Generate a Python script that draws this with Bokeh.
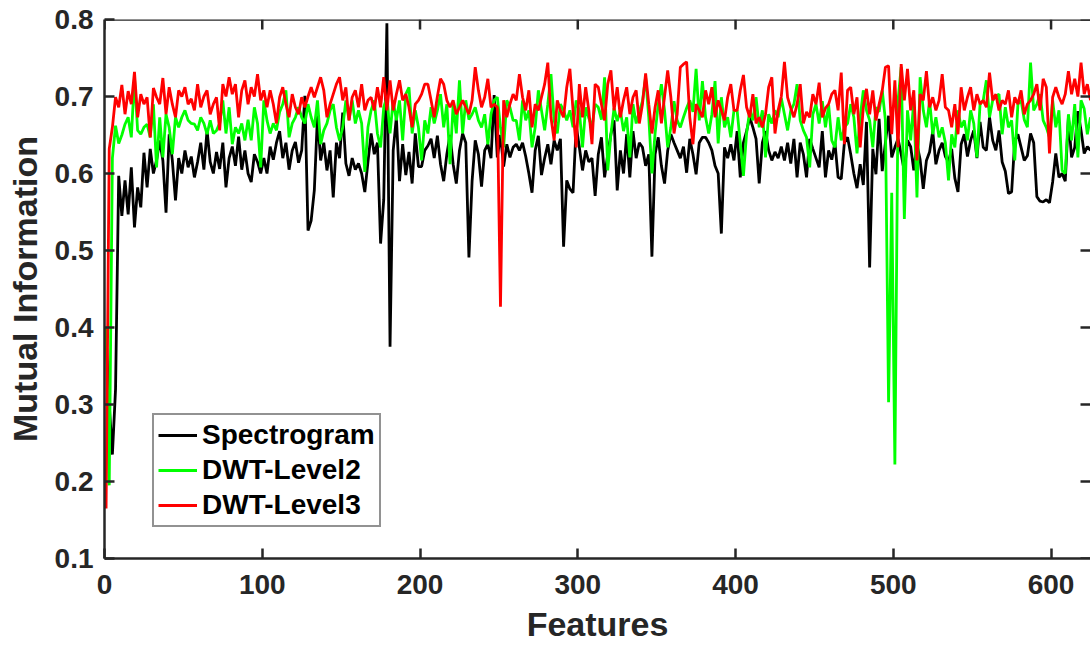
from math import pi
from bokeh.plotting import figure
from bokeh.models import Range1d, FixedTicker, Legend, LegendItem, Span
from bokeh.embed import file_html
from bokeh.resources import INLINE

# ---------------- data ----------------
features = list(range(1, 626, 2))          # feature index (every 2nd feature)
x_ticks = [0, 100, 200, 300, 400, 500, 600]
y_ticks = [0.1, 0.2, 0.3, 0.4, 0.5, 0.6, 0.7, 0.8]

spectrogram = [
    0.390, 0.300, 0.235, 0.320, 0.597, 0.545, 0.591, 0.547, 0.608, 0.530,
    0.582, 0.556, 0.627, 0.582, 0.632, 0.600, 0.617, 0.643, 0.617, 0.549,
    0.651, 0.617, 0.565, 0.620, 0.600, 0.630, 0.608, 0.622, 0.595, 0.615,
    0.640, 0.605, 0.656, 0.615, 0.600, 0.628, 0.606, 0.640, 0.582, 0.620,
    0.635, 0.610, 0.648, 0.605, 0.630, 0.600, 0.589, 0.625, 0.615, 0.600,
    0.620, 0.600, 0.635, 0.618, 0.640, 0.655, 0.620, 0.640, 0.605, 0.630,
    0.641, 0.614, 0.630, 0.701, 0.526, 0.539, 0.578, 0.675, 0.617, 0.640,
    0.604, 0.630, 0.569, 0.640, 0.620, 0.679, 0.613, 0.597, 0.620, 0.605,
    0.613, 0.600, 0.576, 0.615, 0.652, 0.625, 0.640, 0.509, 0.566, 0.795,
    0.375, 0.630, 0.673, 0.590, 0.638, 0.598, 0.628, 0.587, 0.652, 0.609,
    0.609, 0.630, 0.636, 0.645, 0.620, 0.649, 0.612, 0.590, 0.625, 0.650,
    0.612, 0.587, 0.630, 0.652, 0.640, 0.491, 0.590, 0.643, 0.625, 0.583,
    0.630, 0.638, 0.620, 0.702, 0.621, 0.650, 0.609, 0.638, 0.621, 0.634,
    0.638, 0.630, 0.640, 0.622, 0.600, 0.575, 0.630, 0.649, 0.598, 0.620,
    0.638, 0.612, 0.643, 0.630, 0.645, 0.505, 0.591, 0.580, 0.575, 0.662,
    0.634, 0.604, 0.630, 0.615, 0.620, 0.571, 0.625, 0.647, 0.595, 0.625,
    0.651, 0.669, 0.578, 0.630, 0.600, 0.651, 0.595, 0.655, 0.620, 0.640,
    0.634, 0.610, 0.625, 0.492, 0.625, 0.647, 0.610, 0.587, 0.630, 0.651,
    0.640, 0.630, 0.620, 0.635, 0.601, 0.645, 0.625, 0.599, 0.640, 0.647,
    0.647, 0.640, 0.630, 0.610, 0.600, 0.522, 0.634, 0.620, 0.638, 0.617,
    0.655, 0.595, 0.640, 0.655, 0.673, 0.660, 0.645, 0.587, 0.640, 0.655,
    0.630, 0.617, 0.628, 0.620, 0.635, 0.617, 0.640, 0.613, 0.645, 0.595,
    0.640, 0.625, 0.595, 0.645, 0.632, 0.620, 0.608, 0.655, 0.595, 0.630,
    0.618, 0.640, 0.595, 0.593, 0.640, 0.647, 0.625, 0.600, 0.581, 0.612,
    0.585, 0.667, 0.478, 0.632, 0.599, 0.671, 0.603, 0.640, 0.675, 0.621,
    0.634, 0.645, 0.625, 0.603, 0.643, 0.635, 0.604, 0.638, 0.618, 0.580,
    0.617, 0.628, 0.655, 0.612, 0.630, 0.640, 0.622, 0.615, 0.632, 0.594,
    0.576, 0.638, 0.651, 0.622, 0.643, 0.656, 0.620, 0.667, 0.634, 0.630,
    0.673, 0.643, 0.630, 0.656, 0.615, 0.603, 0.574, 0.576, 0.643, 0.651,
    0.634, 0.617, 0.623, 0.652, 0.640, 0.570, 0.564, 0.563, 0.566, 0.562,
    0.589, 0.626, 0.595, 0.600, 0.590, 0.673, 0.621, 0.634, 0.681, 0.656,
    0.626, 0.635, 0.630]

dwt_level2 = [
    0.400, 0.195, 0.620, 0.662, 0.639, 0.650, 0.664, 0.673, 0.647, 0.725,
    0.656, 0.651, 0.660, 0.664, 0.647, 0.690, 0.608, 0.673, 0.621, 0.677,
    0.660, 0.625, 0.673, 0.660, 0.673, 0.682, 0.669, 0.665, 0.664, 0.656,
    0.673, 0.665, 0.651, 0.669, 0.652, 0.656, 0.665, 0.695, 0.652, 0.686,
    0.638, 0.660, 0.652, 0.665, 0.643, 0.670, 0.643, 0.686, 0.665, 0.608,
    0.695, 0.669, 0.652, 0.665, 0.656, 0.680, 0.690, 0.708, 0.647, 0.665,
    0.673, 0.686, 0.673, 0.665, 0.690, 0.673, 0.660, 0.695, 0.638, 0.656,
    0.665, 0.682, 0.690, 0.660, 0.643, 0.660, 0.695, 0.669, 0.695, 0.665,
    0.682, 0.665, 0.602, 0.660, 0.682, 0.695, 0.652, 0.634, 0.686, 0.699,
    0.652, 0.695, 0.669, 0.695, 0.643, 0.703, 0.712, 0.652, 0.682, 0.660,
    0.617, 0.669, 0.652, 0.686, 0.665, 0.682, 0.703, 0.660, 0.690, 0.612,
    0.690, 0.652, 0.721, 0.652, 0.695, 0.670, 0.677, 0.686, 0.669, 0.660,
    0.677, 0.638, 0.677, 0.695, 0.699, 0.660, 0.634, 0.695, 0.686, 0.669,
    0.669, 0.643, 0.695, 0.669, 0.682, 0.634, 0.660, 0.708, 0.682, 0.656,
    0.690, 0.729, 0.669, 0.652, 0.690, 0.682, 0.669, 0.682, 0.660, 0.695,
    0.681, 0.634, 0.686, 0.672, 0.660, 0.690, 0.686, 0.670, 0.725, 0.604,
    0.651, 0.685, 0.668, 0.682, 0.655, 0.673, 0.621, 0.690, 0.665, 0.680,
    0.694, 0.725, 0.673, 0.600, 0.652, 0.690, 0.716, 0.682, 0.634, 0.660,
    0.694, 0.669, 0.660, 0.673, 0.685, 0.695, 0.680, 0.736, 0.669, 0.720,
    0.673, 0.652, 0.677, 0.720, 0.639, 0.699, 0.660, 0.673, 0.647, 0.682,
    0.682, 0.640, 0.597, 0.652, 0.682, 0.669, 0.699, 0.660, 0.682, 0.621,
    0.677, 0.665, 0.682, 0.673, 0.698, 0.677, 0.656, 0.682, 0.690, 0.716,
    0.669, 0.656, 0.647, 0.608, 0.677, 0.690, 0.665, 0.694, 0.660, 0.689,
    0.643, 0.634, 0.673, 0.643, 0.660, 0.665, 0.690, 0.673, 0.626, 0.673,
    0.708, 0.682, 0.669, 0.634, 0.686, 0.680, 0.708, 0.669, 0.303, 0.575,
    0.222, 0.695, 0.738, 0.541, 0.682, 0.643, 0.695, 0.569, 0.725, 0.682,
    0.660, 0.695, 0.651, 0.673, 0.647, 0.660, 0.640, 0.591, 0.651, 0.634,
    0.682, 0.660, 0.669, 0.643, 0.682, 0.665, 0.621, 0.690, 0.695, 0.721,
    0.673, 0.695, 0.700, 0.703, 0.651, 0.686, 0.660, 0.669, 0.617, 0.690,
    0.695, 0.670, 0.660, 0.744, 0.682, 0.690, 0.703, 0.669, 0.660, 0.647,
    0.695, 0.660, 0.682, 0.604, 0.600, 0.677, 0.643, 0.690, 0.621, 0.695,
    0.684, 0.651, 0.673]

dwt_level3 = [
    0.165, 0.632, 0.660, 0.699, 0.686, 0.715, 0.677, 0.707, 0.690, 0.732,
    0.673, 0.703, 0.690, 0.699, 0.647, 0.711, 0.699, 0.690, 0.724, 0.677,
    0.712, 0.690, 0.673, 0.708, 0.700, 0.712, 0.690, 0.697, 0.682, 0.716,
    0.686, 0.700, 0.708, 0.677, 0.690, 0.699, 0.656, 0.716, 0.700, 0.725,
    0.703, 0.716, 0.673, 0.708, 0.721, 0.690, 0.712, 0.700, 0.729, 0.695,
    0.708, 0.686, 0.708, 0.690, 0.665, 0.699, 0.712, 0.690, 0.673, 0.703,
    0.686, 0.677, 0.699, 0.686, 0.700, 0.712, 0.699, 0.712, 0.725, 0.708,
    0.673, 0.690, 0.703, 0.716, 0.725, 0.695, 0.712, 0.669, 0.699, 0.708,
    0.686, 0.716, 0.682, 0.695, 0.699, 0.682, 0.712, 0.686, 0.725, 0.682,
    0.721, 0.682, 0.703, 0.721, 0.695, 0.703, 0.686, 0.660, 0.690, 0.695,
    0.703, 0.716, 0.716, 0.695, 0.673, 0.700, 0.723, 0.716, 0.695, 0.686,
    0.695, 0.677, 0.686, 0.695, 0.686, 0.677, 0.695, 0.738, 0.708, 0.686,
    0.699, 0.723, 0.686, 0.690, 0.686, 0.427, 0.695, 0.673, 0.690, 0.703,
    0.695, 0.729, 0.699, 0.682, 0.708, 0.660, 0.690, 0.682, 0.699, 0.716,
    0.744, 0.673, 0.643, 0.695, 0.682, 0.673, 0.712, 0.736, 0.682, 0.634,
    0.716, 0.673, 0.712, 0.682, 0.638, 0.716, 0.712, 0.690, 0.669, 0.716,
    0.734, 0.682, 0.712, 0.673, 0.695, 0.712, 0.677, 0.699, 0.708, 0.665,
    0.690, 0.730, 0.690, 0.652, 0.686, 0.708, 0.665, 0.700, 0.734, 0.699,
    0.652, 0.677, 0.738, 0.742, 0.745, 0.673, 0.638, 0.690, 0.682, 0.673,
    0.708, 0.690, 0.712, 0.673, 0.695, 0.682, 0.669, 0.699, 0.716, 0.682,
    0.682, 0.708, 0.728, 0.686, 0.673, 0.703, 0.665, 0.673, 0.660, 0.677,
    0.712, 0.725, 0.652, 0.682, 0.700, 0.745, 0.699, 0.685, 0.673, 0.690,
    0.716, 0.665, 0.680, 0.673, 0.703, 0.690, 0.718, 0.673, 0.685, 0.690,
    0.703, 0.708, 0.682, 0.731, 0.638, 0.708, 0.712, 0.677, 0.699, 0.634,
    0.686, 0.710, 0.677, 0.708, 0.669, 0.690, 0.708, 0.738, 0.740, 0.651,
    0.721, 0.634, 0.742, 0.695, 0.736, 0.682, 0.708, 0.617, 0.703, 0.695,
    0.733, 0.686, 0.699, 0.682, 0.695, 0.729, 0.686, 0.682, 0.660, 0.690,
    0.651, 0.712, 0.682, 0.699, 0.712, 0.682, 0.703, 0.690, 0.695, 0.686,
    0.731, 0.695, 0.703, 0.682, 0.695, 0.690, 0.708, 0.673, 0.699, 0.690,
    0.708, 0.677, 0.690, 0.695, 0.703, 0.716, 0.682, 0.723, 0.712, 0.626,
    0.699, 0.712, 0.699, 0.690, 0.703, 0.733, 0.703, 0.723, 0.700, 0.744,
    0.703, 0.716, 0.695]

series_names = ["Spectrogram", "DWT-Level2", "DWT-Level3"]
series_colors = ["#000000", "#00FF00", "#FF0000"]

X_MIN, X_MAX = 0, 625
Y_MIN, Y_MAX = 0.1, 0.8

# ---------------- figure ----------------
FONT = "Liberation Sans"
AX = "#262626"
LW = 2.8

p = figure(width=1090, height=646, output_backend="svg", toolbar_location=None,
           x_range=Range1d(X_MIN, X_MAX), y_range=Range1d(Y_MIN, Y_MAX),
           min_border_left=104, min_border_right=0, min_border_top=19,
           min_border_bottom=88)
p.xgrid.visible = False
p.ygrid.visible = False
p.outline_line_color = None
p.background_fill_color = "white"
p.border_fill_color = "white"

renderers = []
for name, ys, col in zip(series_names, [spectrogram, dwt_level2, dwt_level3], series_colors):
    r = p.line(features[:len(ys)], ys, line_color=col, line_width=LW)
    renderers.append(r)


def style_axis(ax, ticks):
    ax.ticker = FixedTicker(ticks=ticks)
    ax.axis_line_color = AX
    ax.axis_line_width = 2.5
    ax.major_tick_line_color = AX
    ax.major_tick_line_width = 2.5
    ax.major_tick_in = 10
    ax.major_tick_out = 0
    ax.minor_tick_line_color = None
    ax.major_label_text_font = FONT
    ax.major_label_text_font_style = "bold"
    ax.major_label_text_font_size = "28px"
    ax.major_label_text_color = AX
    ax.axis_label_text_font = FONT
    ax.axis_label_text_font_style = "bold"
    ax.axis_label_text_font_size = "34px"
    ax.axis_label_text_color = AX


xa = p.xaxis[0]
style_axis(xa, x_ticks)
xa.axis_label = "Features"
xa.major_label_standoff = 16
xa.axis_label_standoff = 8

ya = p.yaxis[0]
style_axis(ya, y_ticks)
ya.axis_label = "Mutual Information"
ya.major_label_standoff = 11
ya.axis_label_standoff = 8

# box: top spine plus inward ticks on the top and right sides
p.add_layout(Span(location=Y_MAX, dimension="width", line_color=AX, line_width=2.5))
p.ray(x=x_ticks, y=[Y_MAX] * len(x_ticks), length=10, length_units="screen",
      angle=-pi / 2, line_color=AX, line_width=2.5)
p.ray(x=[X_MAX] * len(y_ticks), y=y_ticks, length=10, length_units="screen",
      angle=pi, line_color=AX, line_width=2.5)

legend = Legend(items=[LegendItem(label=n, renderers=[r]) for n, r in zip(series_names, renderers)],
                location=(48, 31))
legend.label_text_font = FONT
legend.label_text_font_style = "bold"
legend.label_text_font_size = "28px"
legend.label_text_color = "#000000"
legend.border_line_color = AX
legend.border_line_width = 2
legend.background_fill_color = "white"
legend.background_fill_alpha = 1.0
legend.glyph_width = 39
legend.glyph_height = 30
legend.label_height = 30
legend.label_standoff = 5
legend.padding = 4
legend.spacing = 3
legend.margin = 0
p.add_layout(legend)

open("out.html", "w").write(file_html(p, INLINE))
